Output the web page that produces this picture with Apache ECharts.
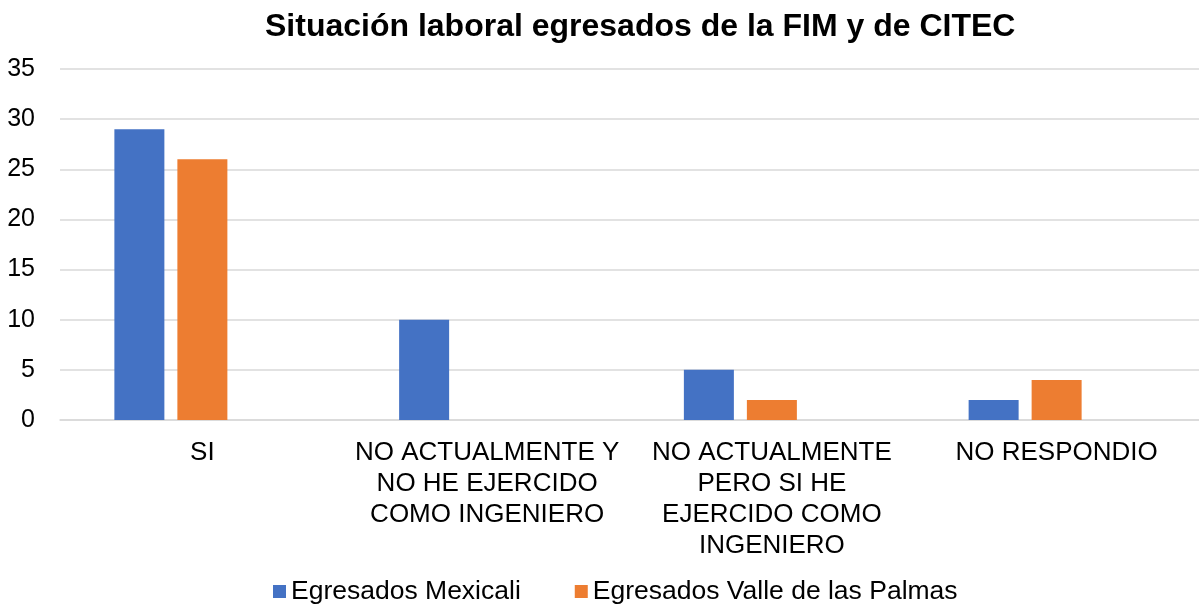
<!DOCTYPE html>
<html lang="es">
<head>
    <meta charset="UTF-8">
    <title>Situación laboral egresados</title>
    <script src="https://cdn.jsdelivr.net/npm/echarts@6/dist/echarts.min.js"></script>
    <style>
        html, body { margin: 0; padding: 0; background: #fff; }
        #chart1 { width: 1199px; height: 611px; }
    </style>
</head>
<body>
<div id="chart1"></div>
<script type="text/javascript">
    // datos
    var categorias = [
        'SI',
        'NO ACTUALMENTE Y\nNO HE EJERCIDO\nCOMO INGENIERO',
        'NO ACTUALMENTE\nPERO SI HE\nEJERCIDO COMO\nINGENIERO',
        'NO RESPONDIO'
    ];
    var mexicali = [29, 10, 5, 2];
    var vallePalmas = [26, 0, 2, 4];
    // serie vacía que ocupa el tercer lugar en cada grupo (como en el original)
    var serieVacia = [null, null, null, null];
    var ticksY = [0, 35, 5]; // min, max, intervalo

    var fuente = 'Liberation Sans, Arial, sans-serif';
    var myChart1 = echarts.init(document.getElementById('chart1'));
    myChart1.setOption({
        animation: false,
        title: {
            text: 'Situación laboral egresados de la FIM y de CITEC',
            left: 260,
            top: 6,
            textStyle: { fontFamily: fuente, fontSize: 32, fontWeight: 'bold', color: '#000' }
        },
        legend: {
            data: ['Egresados Mexicali', 'Egresados Valle de las Palmas'],
            bottom: 1,
            left: 268,
            icon: 'rect',
            itemWidth: 13,
            itemHeight: 13,
            itemGap: 54,
            textStyle: { fontFamily: fuente, fontSize: 26.5, color: '#000' }
        },
        grid: { left: 60, top: 69, width: 1145, bottom: 191, containLabel: false },
        xAxis: {
            type: 'category',
            data: categorias,
            axisTick: { show: false },
            axisLine: { lineStyle: { color: '#d9d9d9', width: 1.5 } },
            axisLabel: {
                interval: 0,
                margin: 17,
                fontFamily: fuente,
                fontSize: 26,
                lineHeight: 31,
                color: '#000',
                align: 'center'
            }
        },
        yAxis: {
            type: 'value',
            min: ticksY[0],
            max: ticksY[1],
            interval: ticksY[2],
            axisLine: { show: false },
            axisTick: { show: false },
            splitLine: { lineStyle: { color: '#d9d9d9', width: 1.5 } },
            axisLabel: { margin: 25, fontFamily: fuente, fontSize: 25, color: '#000' }
        },
        series: [
            {
                name: 'Egresados Mexicali',
                type: 'bar',
                data: mexicali,
                barWidth: 50,
                barGap: '26%',
                itemStyle: { color: '#4472C4' }
            },
            {
                name: 'Egresados Valle de las Palmas',
                type: 'bar',
                data: vallePalmas,
                barWidth: 50,
                barGap: '26%',
                itemStyle: { color: '#ED7D31' }
            },
            {
                name: '',
                type: 'bar',
                data: serieVacia,
                barWidth: 50,
                barGap: '26%'
            }
        ]
    });
</script>
</body>
</html>
